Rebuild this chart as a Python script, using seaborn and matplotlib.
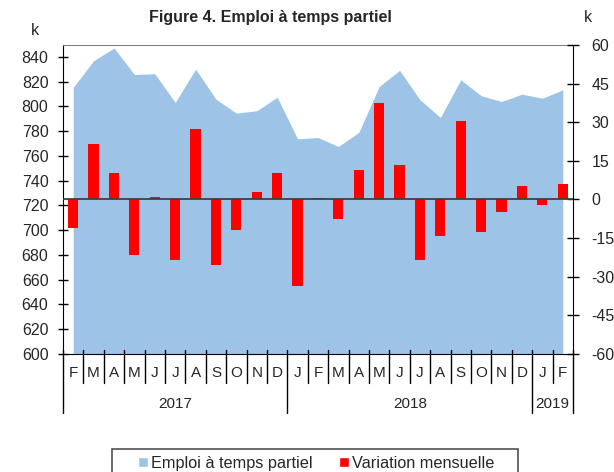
import numpy as np
import pandas as pd
import matplotlib
matplotlib.use("Agg")
import matplotlib.pyplot as plt
import matplotlib.transforms as mtransforms
from matplotlib.patches import Patch, Rectangle
import seaborn as sns

# data
months = ["F", "M", "A", "M", "J", "J", "A", "S", "O", "N", "D",
          "J", "F", "M", "A", "M", "J", "J", "A", "S", "O", "N", "D",
          "J", "F"]
years = ["2017", "2018", "2019"]
year_spans = [(0, 10), (11, 22), (23, 24)]  # first / last month index of each year

emploi = [815.2, 836.8, 847.0, 825.7, 826.3, 803.1, 830.0, 805.7, 794.5, 796.4, 807.4,
          773.7, 774.8, 767.6, 778.9, 816.0, 829.0, 805.3, 791.0, 821.4, 808.5, 803.9, 809.8,
          806.5, 813.3]
variation = [-11.2, 21.7, 10.4, -21.7, 1.0, -23.5, 27.3, -25.3, -11.7, 2.8, 10.4,
             -33.4, 0.6, -7.4, 11.3, 37.6, 13.2, -23.5, -14.3, 30.4, -12.6, -4.8, 5.3,
             -2.1, 5.9]

left_ticks = list(range(600, 841, 20))
right_ticks = list(range(-60, 61, 15))

AREA_COLOR = "#9dc3e6"
BAR_COLOR = "#ff0000"

sns.set_style("white")
plt.rcParams["font.family"] = ["Liberation Sans", "DejaVu Sans"]
plt.rcParams["font.size"] = 11
plt.rcParams["axes.unicode_minus"] = False

df = pd.DataFrame({"pos": np.arange(len(months)), "emploi": emploi, "variation": variation})

fig = plt.figure(figsize=(6.14, 4.72), dpi=100)
ax = fig.add_axes([0.1026, 0.25, 0.8306, 0.6547])
ax2 = ax.twinx()

# area: part-time employment
ax.fill_between(df["pos"], 600, df["emploi"], color=AREA_COLOR, linewidth=0)
ax.set_ylim(600, 849.5)
ax.set_yticks(left_ticks)
ax.set_xlim(-0.5, len(months) - 0.5)

# bars: monthly change
sns.barplot(data=df, x="pos", y="variation", ax=ax2, color=BAR_COLOR,
            width=0.5, saturation=1, linewidth=0, edgecolor="none",
            order=list(range(len(months))))
ax2.axhline(0, color="#404040", lw=1.3, zorder=3)
ax2.set_ylim(-60, 60)
ax2.set_yticks(right_ticks)
ax2.set_xlim(-0.5, len(months) - 0.5)
ax2.set_xlabel("")
ax2.set_ylabel("")

for a in (ax, ax2):
    a.set_xticks([])
    for s in a.spines.values():
        s.set_visible(False)

ax.spines["left"].set_visible(True)
ax.spines["left"].set_color("black")
ax.spines["bottom"].set_visible(True)
ax.spines["bottom"].set_color("black")
ax.spines["top"].set_visible(True)
ax.spines["top"].set_color("#808080")
ax2.spines["right"].set_visible(True)
ax2.spines["right"].set_color("black")

ax.tick_params(axis="y", direction="inout", length=7, width=1, color="black",
               labelsize=11.5, pad=7, left=True)
ax2.tick_params(axis="y", direction="inout", length=8.5, width=1, color="black",
                labelsize=11.5, pad=9, right=True)

# month labels and separators below the axis
trans = mtransforms.blended_transform_factory(ax.transData, ax.transAxes)
year_edges = [s - 0.5 for s, _ in year_spans] + [year_spans[-1][1] + 0.5]
for i, m in enumerate(months):
    ax.text(i, -0.062, m, transform=trans, ha="center", va="center", fontsize=11)
for k in range(len(months) + 1):
    x = k - 0.5
    bottom = -0.191 if x in year_edges else -0.094
    ax.plot([x, x], [0.012, bottom], transform=trans, color="black", lw=1, clip_on=False)
for (s, e), yr in zip(year_spans, years):
    ax.text((s + e) / 2, -0.162, yr, transform=trans, ha="center", va="center", fontsize=11)

fig.text(0.44, 0.963, "Figure 4. Emploi à temps partiel", ha="center", va="center",
         fontsize=11.5, fontweight="bold")
fig.text(0.057, 0.935, "k", ha="center", va="center", fontsize=11.5)
fig.text(0.958, 0.963, "k", ha="center", va="center", fontsize=11.5)

# legend (frame drawn separately, it runs off the bottom edge)
handles = [Patch(facecolor=AREA_COLOR, label="Emploi à temps partiel"),
           Patch(facecolor=BAR_COLOR, label="Variation mensuelle")]
fig.legend(handles=handles, loc="center", bbox_to_anchor=(0.515, 0.019), ncol=2,
           frameon=False, fontsize=11.7,
           handlelength=0.62, handleheight=0.62, handletextpad=0.2, columnspacing=1.6,
           borderpad=0)
fig.patches.append(Rectangle((0.1824, -0.05), 0.661, 0.0987, transform=fig.transFigure,
                             fill=False, edgecolor="#505050", lw=1.2))

fig.savefig("out.png", dpi=100)
